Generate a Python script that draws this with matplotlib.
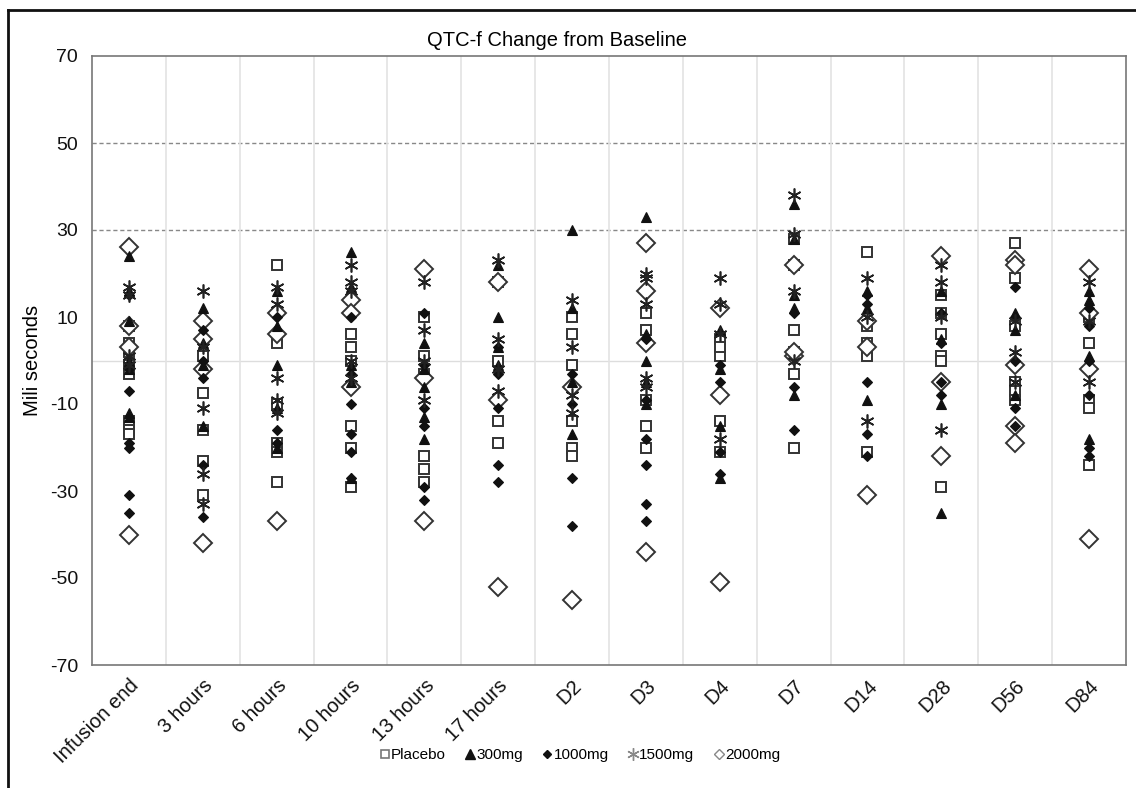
import matplotlib
matplotlib.use("Agg")
import matplotlib.pyplot as plt
from matplotlib.lines import Line2D

categories = ["Infusion end", "3 hours", "6 hours", "10 hours", "13 hours", "17 hours",
              "D2", "D3", "D4", "D7", "D14", "D28", "D56", "D84"]

placebo = [
    [8, 4, 2, -1, -3, -14, -15, -16, -17],
    [1, -7.5, -16, -23, -31],
    [22, 4, -10, -19, -21, -28],
    [6, 3, 0, -15, -20, -29],
    [10, 1, -3, -22, -25, -28],
    [18, 0, -14, -19],
    [10, 6, -1, -14, -20, -22],
    [11, 7, -9, -15, -20],
    [5, 1, 3, -14, -21],
    [28, 22, 7, 2, -3, -20],
    [25, 8, 4, 1, -21],
    [15, 11, 6, 1, 0, -29],
    [27, 19, 8, -5, -7, -9],
    [10, 4, -9, -11, -24],
]
mg300 = [
    [24, 16, 9, 0, -2, -12, -13],
    [12, 4, -1, -15],
    [16, 8, -1, -11, -20],
    [25, 17, -1, -5, -27],
    [4, -2, -6, -13, -18],
    [22, 10, 3, -1],
    [30, 12, -5, -17],
    [33, 6, 0, -5, -10],
    [7, -2, -15, -27],
    [36, 28, 15, 12, -8],
    [16, 12, -9],
    [16, 5, -10, -35],
    [11, 7, -8],
    [16, 14, 1, -18],
]
mg1000 = [
    [15, -2, -7, -19, -20, -31, -35],
    [7, 0, -4, -24, -36],
    [10, -16, -19],
    [10, -3, -10, -17, -21, -27],
    [11, -1, -11, -15, -29, -32],
    [3, -3, -11, -24, -28],
    [-3, -10, -27, -38],
    [5, -9, -18, -24, -33, -37],
    [-1, -5, -21, -26],
    [11, -6, -16],
    [15, 13, -5, -17, -22],
    [11, 4, -5, -8],
    [17, 10, 0, -11, -15],
    [12, 8, 0, -8, -20, -22],
]
mg1500 = [
    [17, 15, 1, -1],
    [16, 3, -11, -26, -33],
    [17, 13, -4, -9, -12],
    [22, 18, 16, 0, -4],
    [18, 7, 0, -9],
    [23, 5, -7, -2],
    [14, 3, -8, -12],
    [20, 19, 13, -4, -6],
    [19, 13, 6, -18],
    [38, 29, 16, 0],
    [19, 10, -14],
    [22, 18, 10, -16],
    [9, 2, -5],
    [18, 9, -5],
]
mg2000 = [
    [26, 8, 3, -40],
    [9, 5, -2, -42],
    [11, 6, -37],
    [14, 11, -6],
    [21, -4, -37],
    [18, -9, -52],
    [-6, -55],
    [27, 16, 4, -44],
    [12, -8, -51],
    [22, 1, 2],
    [9, 3, -31],
    [24, -5, -22],
    [23, 22, -1, -15, -19],
    [21, 11, -2, -41],
]

series_names = ["Placebo", "300mg", "1000mg", "1500mg", "2000mg"]
series_data = [placebo, mg300, mg1000, mg1500, mg2000]
styles = [
    dict(marker="s", ms=7, mfc="white", mec="#333333", mew=1.4),
    dict(marker="^", ms=7.5, mfc="#111111", mec="#111111", mew=0.8),
    dict(marker="D", ms=5, mfc="#111111", mec="#111111", mew=0.8),
    dict(marker=(6, 2, 0), ms=10, mfc="none", mec="#222222", mew=1.2),
    dict(marker="D", ms=9, mfc="white", mec="#333333", mew=1.4),
]

plt.rcParams["font.family"] = ["Liberation Sans", "DejaVu Sans"]
plt.rcParams["axes.unicode_minus"] = False

fig = plt.figure(figsize=(11.36, 7.88), dpi=100)
ax = fig.add_axes([92 / 1136, 1 - 665 / 788, (1126 - 92) / 1136, (665 - 56) / 788])

# reference lines
ax.axhline(0, color="#dddddd", lw=1.0, zorder=0)
for yv in (30, 50):
    ax.axhline(yv, color="#888888", lw=1.0, ls=(0, (3, 2)), zorder=0)
for i in range(len(categories) - 1):
    ax.axvline(i + 0.5, color="#e3e3e3", lw=1.2, zorder=0)

order = [0, 4, 1, 2, 3]
for k in order:
    data = series_data[k]
    xs, ys = [], []
    for i, vals in enumerate(data):
        xs.extend([i] * len(vals))
        ys.extend(vals)
    ax.plot(xs, ys, ls="none", zorder=3, **styles[k])

ax.set_xlim(-0.5, len(categories) - 0.5)
ax.set_ylim(-70, 70)
ax.set_yticks([-70, -50, -30, -10, 10, 30, 50, 70])
ax.set_xticks(range(len(categories)))
ax.set_xticklabels(categories, rotation=45, ha="right", rotation_mode="anchor", fontsize=14.5)
ax.tick_params(axis="both", length=0, colors="#111111")
ax.tick_params(axis="y", pad=10, labelsize=14)
ax.tick_params(axis="x", pad=8)
for s in ax.spines.values():
    s.set_color("#777777")
    s.set_linewidth(1.2)

ax.set_ylabel("Mili seconds", fontsize=14.5, labelpad=6)
fig.text(557 / 1136, 1 - 40 / 788, "QTC-f Change from Baseline", ha="center", va="center", fontsize=14.5)

# legend
handles = []
leg_styles = [
    dict(marker="s", ms=6, mfc="white", mec="#777777", mew=1.2),
    dict(marker="^", ms=6.5, mfc="#111111", mec="#111111"),
    dict(marker="D", ms=4.5, mfc="#111111", mec="#111111"),
    dict(marker=(6, 2, 0), ms=9, mfc="none", mec="#888888", mew=1.0),
    dict(marker="D", ms=5.5, mfc="white", mec="#888888", mew=1.0),
]
for name, st in zip(series_names, leg_styles):
    handles.append(Line2D([], [], ls="none", label=name, **st))
fig.legend(handles=handles, loc="center", bbox_to_anchor=(580 / 1136, 1 - 755 / 788), ncol=5,
           frameon=False, fontsize=11, handlelength=0.6, handletextpad=0.1, columnspacing=1.3)

# outer partial frame
fig.add_artist(Line2D([8 / 1136, 8 / 1136], [0, 1 - 10 / 788], transform=fig.transFigure, color="#111111", lw=2))
fig.add_artist(Line2D([8 / 1136, 1], [1 - 10 / 788, 1 - 10 / 788], transform=fig.transFigure, color="#111111", lw=2))

fig.savefig("out.png", dpi=100, facecolor="white")
